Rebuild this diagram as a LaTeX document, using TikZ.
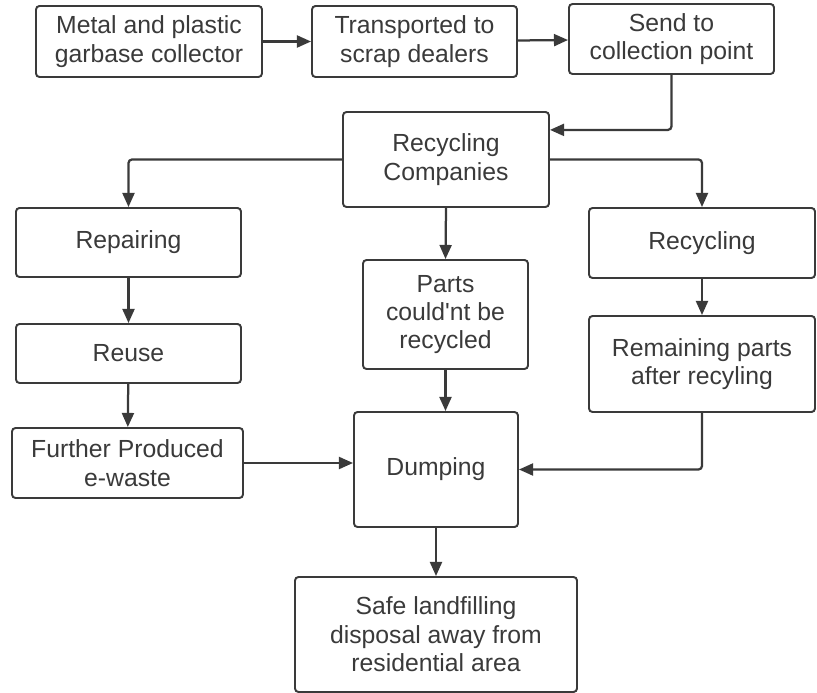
\documentclass[tikz,border=0pt]{standalone}
\usepackage{fontspec}
\setmainfont{Liberation Sans}
\newfontfamily\boxfont{Liberation Sans}
\usetikzlibrary{arrows.meta,positioning}
\definecolor{inkgray}{HTML}{3A3A3A}
\tikzset{
  flowbox/.style={rectangle, draw=inkgray, line width=1.4pt, rounded corners=2.5pt, fill=white, align=center, inner sep=2pt, text=inkgray, font=\boxfont\fontsize{17.6}{20.2}\selectfont},
  arrow/.style={-{Triangle[length=10pt, width=8.5pt]}, line width=1.6pt, draw=inkgray, rounded corners=2.5pt}
}

\begin{document}
\begin{tikzpicture}
  \useasboundingbox (0,0) rectangle (20.425,-17.325);
  % top row
  \node[flowbox, minimum width=5.65cm, minimum height=1.775cm] (collector) at (3.725,-1.0375) {Metal and plastic\\garbase collector};
  \node[flowbox, minimum width=5.125cm, minimum height=1.775cm] (dealers) at (10.3625,-1.0375) {Transported to\\scrap dealers};
  \node[flowbox, minimum width=5.125cm, minimum height=1.75cm] (collection) at (16.7875,-0.975) {Send to\\collection point};
  \node[flowbox, minimum width=5.15cm, minimum height=2.375cm] (companies) at (11.15,-3.9875) {Recycling\\Companies};
  % three branches
  \node[flowbox, minimum width=5.625cm, minimum height=1.725cm] (repairing) at (3.2125,-6.0625) {Repairing};
  \node[flowbox, minimum width=5.65cm, minimum height=1.75cm] (recycling) at (17.55,-6.075) {Recycling};
  \node[flowbox, minimum width=4.125cm, minimum height=2.725cm] (parts) at (11.1375,-7.8625) {Parts\\could'nt be\\recycled};
  \node[flowbox, minimum width=5.625cm, minimum height=1.475cm] (reuse) at (3.2125,-8.8375) {Reuse};
  \node[flowbox, minimum width=5.65cm, minimum height=2.4cm] (remaining) at (17.55,-9.1) {Remaining parts\\after recyling};
  \node[flowbox, minimum width=5.775cm, minimum height=1.75cm] (ewaste) at (3.1875,-11.575) {Further Produced\\e-waste};
  % bottom
  \node[flowbox, minimum width=4.1cm, minimum height=2.875cm] (dumping) at (10.9,-11.7375) {Dumping};
  \node[flowbox, minimum width=7.05cm, minimum height=2.875cm] (landfill) at (10.9,-15.8625) {Safe landfilling\\disposal away from\\residential area};

  \draw[arrow] (collector) -- (dealers);
  \draw[arrow] (dealers) -- (collection);
  \draw[arrow] (collection.south) |- ([yshift=0.74cm]companies.east);
  \draw[arrow] (companies.west) -| (repairing.north);
  \draw[arrow] (companies.east) -| (recycling.north);
  \draw[arrow] (companies.south) -- (parts.north);
  \draw[arrow] (repairing) -- (reuse);
  \draw[arrow] (reuse) -- (ewaste);
  \draw[arrow] (recycling) -- (remaining);
  \draw[arrow] (ewaste.east) -- (ewaste.east -| dumping.west);
  \draw[arrow] (parts.south) -- (parts.south |- dumping.north);
  \draw[arrow] (remaining.south) |- (dumping.east);
  \draw[arrow] (dumping) -- (landfill);
\end{tikzpicture}
\end{document}
